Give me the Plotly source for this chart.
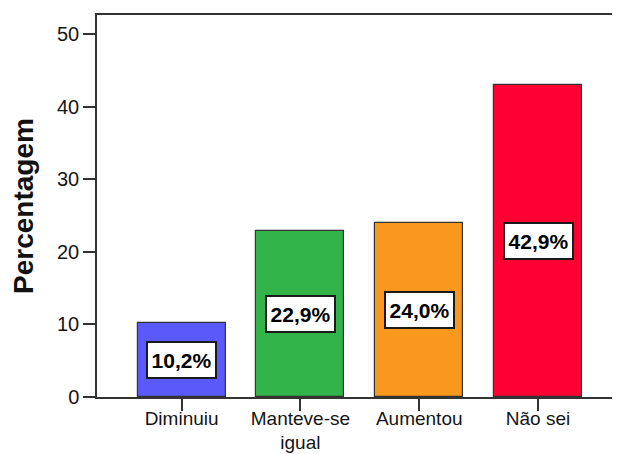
import plotly.graph_objects as go

categories = ["Diminuiu", "Manteve-se<br>igual", "Aumentou", "Não sei"]
values = [10.2, 22.9, 24.0, 42.9]
labels = ["10,2%", "22,9%", "24,0%", "42,9%"]
colors = ["#5A5AFA", "#33B44A", "#F8991E", "#FF0033"]
y_ticks = [0, 10, 20, 30, 40, 50]

x_idx = list(range(len(categories)))

fig = go.Figure()
fig.add_trace(go.Bar(
    x=x_idx, y=values, width=0.74,
    marker=dict(color=colors, line=dict(color="#333333", width=1.2)),
    hoverinfo="skip",
))

for i, (v, lab) in enumerate(zip(values, labels)):
    fig.add_annotation(
        x=i, y=v / 2, xref="x", yref="y", text="<b>%s</b>" % lab,
        showarrow=False, bgcolor="white", bordercolor="#1a1a1a", borderwidth=2,
        borderpad=0, width=67, height=34,
        font=dict(family="Liberation Sans, Arial, sans-serif", size=21, color="black"),
    )

# page body has an 8px margin; figure sized/positioned to compensate
fig.update_layout(
    width=612, height=446,
    margin=dict(l=89, r=0, t=7, b=57),
    plot_bgcolor="white", paper_bgcolor="white",
    showlegend=False,
    font=dict(family="Liberation Sans, Arial, sans-serif", size=19, color="#151515"),
    bargap=0,
)
fig.update_xaxes(
    range=[-0.712, 3.69], tickmode="array", tickvals=x_idx, ticktext=categories,
    showline=True, linecolor="#333333", linewidth=1.5, mirror=True,
    ticks="outside", ticklen=12, tickwidth=1.5, tickcolor="#333333",
    showgrid=False, zeroline=False, tickangle=0, automargin=False,
    tickfont=dict(size=19), ticklabelstandoff=-9,
)
fig.update_yaxes(
    range=[0, 52.6], tickmode="array", tickvals=y_ticks,
    showline=True, linecolor="#333333", linewidth=1.5,
    ticks="outside", ticklen=12, tickwidth=1.5, tickcolor="#333333",
    showgrid=False, zeroline=False, automargin=False,
    tickfont=dict(size=20),
    title=dict(text="<b>Percentagem</b>", font=dict(size=28, color="#111111"), standoff=18),
)

fig.write_html("out.html")
